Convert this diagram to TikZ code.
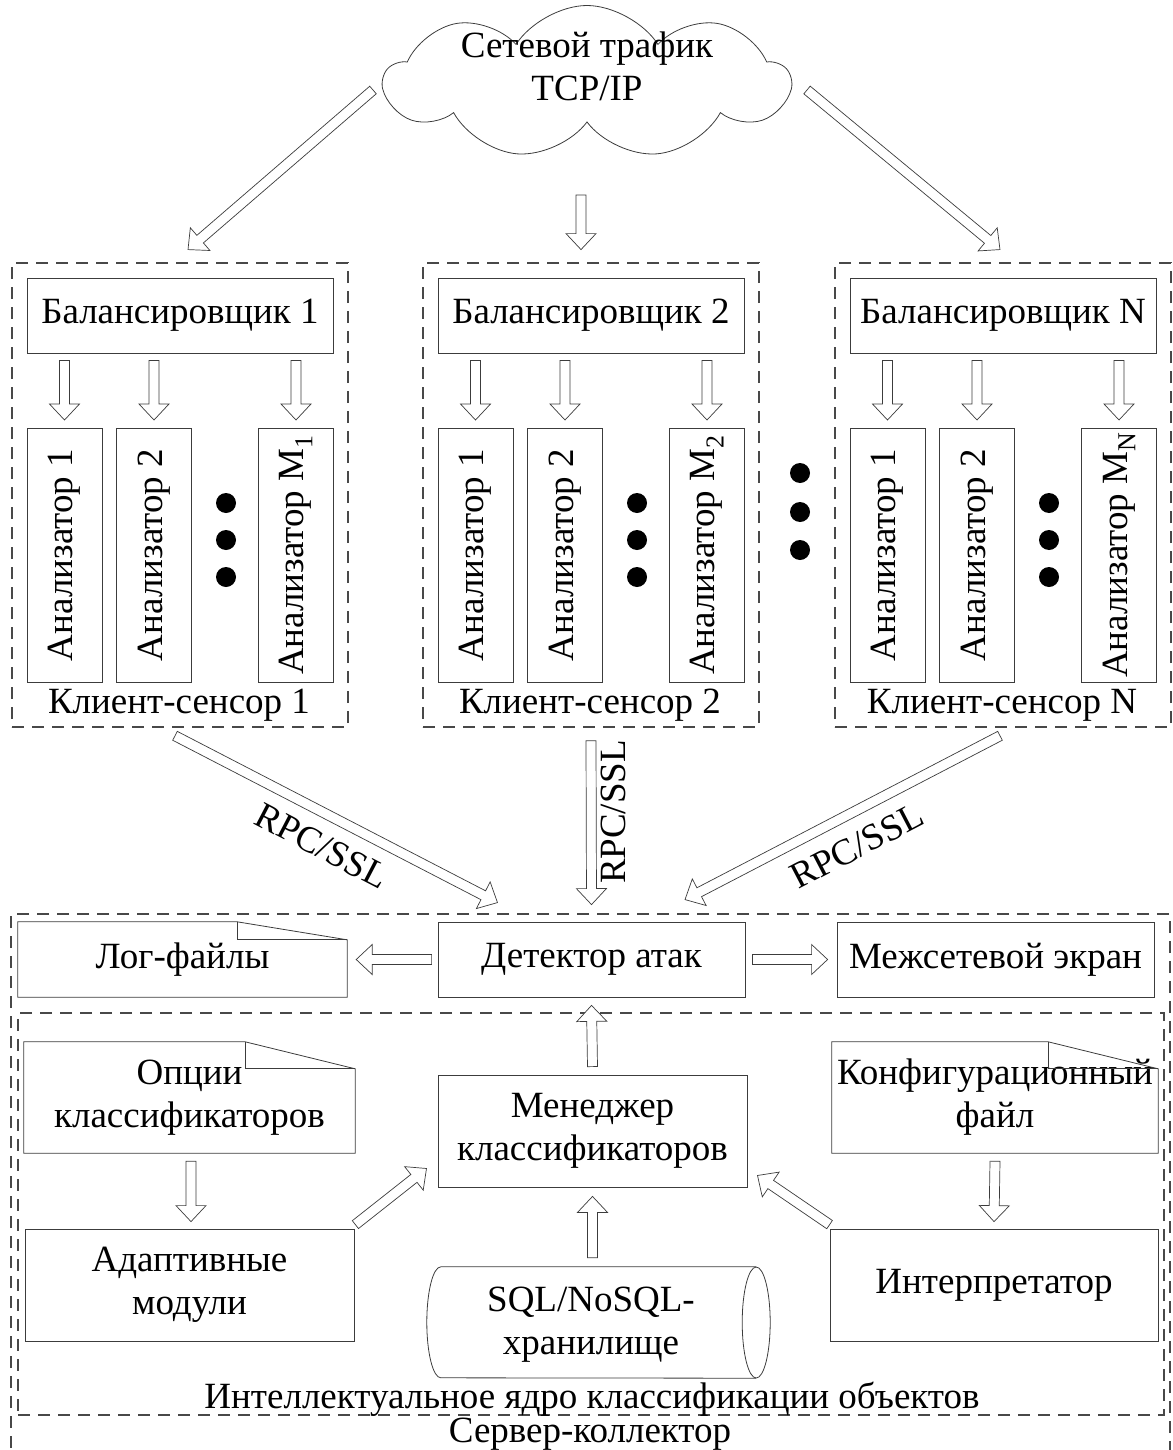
\documentclass[tikz,border=0pt]{standalone}
\usepackage{fontspec}
\setmainfont{Liberation Serif}
\usetikzlibrary{calc,shapes.symbols}
\definecolor{linec}{HTML}{3C3C3C}
\definecolor{dashc}{HTML}{484848}
\tikzset{
  every node/.style={font=\fontsize{37}{43}\selectfont, text=black},
  box/.style={draw=linec, line width=0.8pt, rectangle, inner sep=0pt, align=center},
  plain/.style={rectangle, inner sep=0pt, align=center},
  dbox/.style={draw=dashc, line width=1.6pt, dash pattern=on 12pt off 8pt, rectangle, inner sep=0pt},
  docline/.style={draw=linec, line width=0.8pt},
  barrow/.style={draw=linec, fill=white, line width=0.7pt, line join=miter},
  bigdot/.style={circle, fill=black, inner sep=0pt, minimum size=20pt},
}
\newcommand\blockarrow[2]{%
  \draw[barrow] let \p1=#1, \p2=#2,
    \n1={atan2((\y2)-(\y1),(\x2)-(\x1))},
    \n2={veclen((\x2)-(\x1),(\y2)-(\y1))} in
   [shift={(\p1)}, rotate=\n1] (0,5) -- ({\n2-16},5) -- ({\n2-16},15) -- (\n2,0)
   -- ({\n2-16},-15) -- ({\n2-16},-5) -- (0,-5) -- cycle;}
\begin{document}
\begin{tikzpicture}[x=1pt,y=1pt]
\useasboundingbox (0,0) rectangle (1172,-1450);

% cloud
\node[cloud, draw=linec, line width=0.8pt, cloud puffs=9, cloud puff arc=115, aspect=2.6,
      minimum width=405pt, minimum height=153pt, inner sep=0pt] (cloud) at (587,-82) {};
\node[plain] (cloudtxt) at (587,-66) {Сетевой трафик\\TCP/IP};

% client sensors
\foreach \g/\dx in {1/0, 2/411, N/823}{
  \node[dbox, minimum width=336pt, minimum height=464pt] (cs\g) at ({180+\dx},-495) {};
  \node[box, minimum width=306pt, minimum height=75pt] (bal\g) at ({180+\dx},-315.5) {Балансировщик \g};
  \node[box, rotate=90, minimum width=254pt, minimum height=75pt] (an\g a) at ({64.5+\dx},-555) {Анализатор 1};
  \node[box, rotate=90, minimum width=254pt, minimum height=75pt] (an\g b) at ({154+\dx},-555) {Анализатор 2};
  \node[box, rotate=90, minimum width=254pt, minimum height=75pt] (an\g c) at ({296+\dx},-555) {Анализатор M\textsubscript{\g}};
  \node[bigdot] (dt\g a) at ({226+\dx},-503) {};
  \node[bigdot] (dt\g b) at ({226+\dx},-540) {};
  \node[bigdot] (dt\g c) at ({226+\dx},-577) {};
  \node[plain, anchor=base] (cl\g) at ({179+\dx},-713) {Клиент-сенсор \g};
  \blockarrow{($(bal\g.south -| an\g a.center)+(0,-7)$)}{($(an\g a.center)+(0,135)$)}
  \blockarrow{($(bal\g.south -| an\g b.center)+(0,-7)$)}{($(an\g b.center)+(0,135)$)}
  \blockarrow{($(bal\g.south -| an\g c.center)+(0,-7)$)}{($(an\g c.center)+(0,135)$)}
}
% dots between sensors
\node[bigdot] (mdot1) at (800,-473) {};
\node[bigdot] (mdot2) at (800,-512) {};
\node[bigdot] (mdot3) at (800,-550) {};

% arrows from cloud
\blockarrow{($(cloud.center)+(-214,-8)$)}{($(bal1.north)+(8,28)$)}
\blockarrow{($(cloud.center)+(-6,-113)$)}{($(bal2.north)+(-10,28)$)}
\blockarrow{($(cloud.center)+(220,-8)$)}{($(balN.north)+(-3,28)$)}

% server collector
\node[dbox, minimum width=1159pt, minimum height=540pt] (srv) at (590.5,-1184) {};
\node[dbox, minimum width=1146pt, minimum height=402pt] (core) at (591,-1214) {};

\node[box, minimum width=307pt, minimum height=75pt] (det) at (591.5,-959.5) {Детектор атак};
\node[box, minimum width=317pt, minimum height=75pt] (fw) at (995.5,-959.5) {Межсетевой экран};
\node[plain, minimum width=329pt, minimum height=75pt] (log) at (182.5,-959.5) {Лог-файлы};
\draw[docline] (log.south west) -- (log.north west) -- ($(log.north east)+(-110,0)$)
   -- ($(log.north east)+(0,-18)$) -- (log.south east) -- cycle;
\draw[docline] ($(log.north east)+(-110,0)$) |- ($(log.north east)+(0,-18)$);

\node[plain, minimum width=331pt, minimum height=111pt] (opt) at (189.5,-1097.5) {Опции\\классификаторов};
\draw[docline] (opt.south west) -- (opt.north west) -- ($(opt.north east)+(-110,0)$)
   -- ($(opt.north east)+(0,-27)$) -- (opt.south east) -- cycle;
\draw[docline] ($(opt.north east)+(-110,0)$) |- ($(opt.north east)+(0,-27)$);

\node[plain, minimum width=326pt, minimum height=111pt] (cfg) at (995,-1097.5) {Конфигурационный\\файл};
\draw[docline] (cfg.south west) -- (cfg.north west) -- ($(cfg.north east)+(-110,0)$)
   -- ($(cfg.north east)+(0,-27)$) -- (cfg.south east) -- cycle;
\draw[docline] ($(cfg.north east)+(-110,0)$) |- ($(cfg.north east)+(0,-27)$);

\node[box, minimum width=309pt, minimum height=112pt] (mgr) at (592.5,-1131) {Менеджер\\классификаторов};
\node[box, minimum width=329pt, minimum height=112pt] (adp) at (189.5,-1285) {Адаптивные\\модули};
\node[box, minimum width=328pt, minimum height=112pt] (int) at (994,-1285) {Интерпретатор};

% cylinder storage
\node[plain, minimum width=343pt, minimum height=111pt] (db) at (598.5,-1322.5) {};
\draw[docline] ($(db.north east)+(-14,0)$) -- ($(db.north west)+(14,0)$)
   arc[start angle=90, end angle=270, x radius=14, y radius=55.5] -- ($(db.south east)+(-14,0)$);
\draw[docline] ($(db.east)+(-14,0)$) ellipse [x radius=14, y radius=55.5];
\node[plain] (dbtxt) at (591,-1325) {SQL/NoSQL-\\хранилище};

\node[plain, anchor=base] (corelbl) at (592,-1408) {Интеллектуальное ядро классификации объектов};
\node[plain, anchor=base] (srvlbl) at (590,-1442) {Сервер-коллектор};

% RPC arrows
\blockarrow{($(cs1.south)+(-5,-8)$)}{($(det.north)+(-94,19)$)}
\blockarrow{($(cs2.south)+(0,-13)$)}{($(det.north)+(0,17)$)}
\blockarrow{($(csN.south)+(-3,-8)$)}{($(det.north)+(93.5,22)$)}
\node[plain, rotate=-27.5] (rpc1) at (322,-846) {RPC/SSL};
\node[plain, rotate=90] (rpc2) at (613,-812) {RPC/SSL};
\node[plain, rotate=27.5] (rpc3) at (857,-846) {RPC/SSL};

% server arrows
\blockarrow{($(det.west)+(-6,0)$)}{($(log.east)+(9,0)$)}
\blockarrow{($(det.east)+(7,0)$)}{($(fw.west)+(-9,0)$)}
\blockarrow{($(mgr.north)+(0,8)$)}{($(det.south)+(0,-8)$)}
\blockarrow{($(opt.south)+(1.5,-8)$)}{($(adp.north)+(1.5,7)$)}
\blockarrow{($(cfg.south)+(0,-8)$)}{($(int.north)+(0,7)$)}
\blockarrow{($(adp.north east)+(1,4)$)}{($(mgr.south west)+(-11,19)$)}
\blockarrow{($(int.north west)+(0,4)$)}{($(mgr.south east)+(10,12)$)}
\blockarrow{($(db.north -| mgr.south)+(0,9)$)}{($(mgr.south)+(0,-9)$)}
\end{tikzpicture}
\end{document}
